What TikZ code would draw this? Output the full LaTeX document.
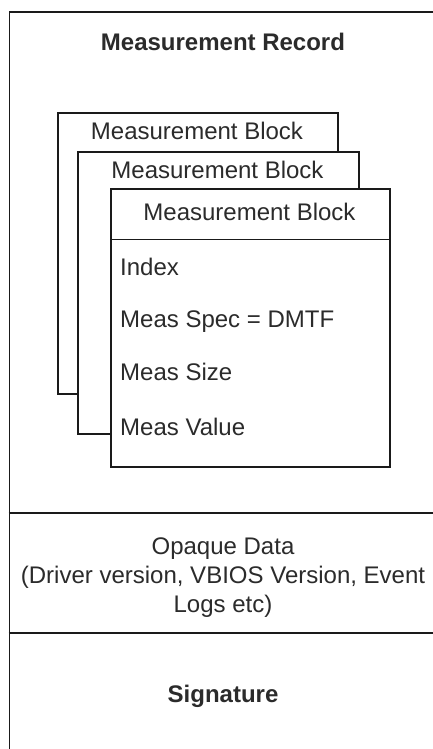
\documentclass[tikz,border=0pt]{standalone}
\usepackage{fontspec}
\setmainfont{Liberation Sans}
\definecolor{linecol}{HTML}{1A1A1A}
\definecolor{textcol}{HTML}{2B2B2B}
\begin{document}
\begin{tikzpicture}[x=1pt,y=-1pt,
  edge/.style={draw=linecol, line width=1.7pt},
  blockbox/.style={edge, fill=white, anchor=north west, inner sep=0pt},
  txt/.style={text=textcol, inner sep=0pt, font=\fontsize{24}{29}\selectfont},
  title/.style={txt, anchor=base, font=\fontsize{24}{29}\selectfont\bfseries},
  head/.style={txt, anchor=base},
  field/.style={txt, anchor=base west}]
\useasboundingbox (0,0) rectangle (433,749);
\clip (0,0) rectangle (433,749);

% outer record frame (runs past the page on the right and bottom)
\node[blockbox, minimum width=429pt, minimum height=760pt] (rec) at (8.5,11) {};
\coordinate (div1) at (0,513);
\coordinate (div2) at (0,633);
\draw[edge] (rec.west |- div1) -- (rec.east |- div1);
\draw[edge] (rec.west |- div2) -- (rec.east |- div2);

\node[title] (rtitle) at (223,51) {Measurement Record};

% stacked measurement blocks
\node[blockbox, minimum width=280pt, minimum height=281pt] (b1) at (57,112) {};
\node[head] (h1) at (197,139.5) {Measurement Block};
\node[blockbox, minimum width=281pt, minimum height=282pt] (b2) at (77,151) {};
\node[head] (h2) at (217.5,178) {Measurement Block};
\node[blockbox, minimum width=279pt, minimum height=278pt] (b3) at (110,188) {};
\node[head] (h3) at (249.5,220) {Measurement Block};
\coordinate (hdr) at (0,239.5);
\draw[edge] (b3.west |- hdr) -- (b3.east |- hdr);

\node[field] (f1) at (120,275) {Index};
\node[field] (f2) at (120,327) {Meas Spec = DMTF};
\node[field] (f3) at (120,380) {Meas Size};
\node[field] (f4) at (120,435) {Meas Value};

% opaque data section
\node[head] (o1) at (223,554) {Opaque Data};
\node[head] (o2) at (223,583) {(Driver version, VBIOS Version, Event};
\node[head] (o3) at (223,612) {Logs etc)};

% signature section
\node[title] (sig) at (223,702) {Signature};
\end{tikzpicture}
\end{document}
